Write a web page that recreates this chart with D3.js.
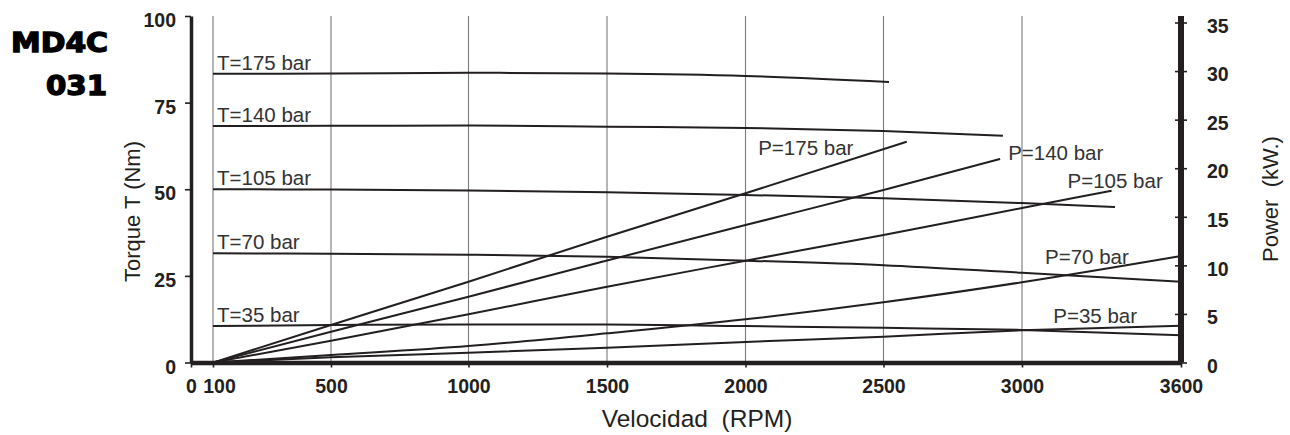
<!DOCTYPE html>
<html><head><meta charset="utf-8">
<script src="https://cdn.jsdelivr.net/npm/d3@7"></script>
<style>
html,body{margin:0;padding:0;background:#fff;}
svg{display:block;}
</style></head>
<body>
<svg id="chart" width="1290" height="435"></svg>
<script>
// ---- Data ----
const xTicks = [0, 100, 500, 1000, 1500, 2000, 2500, 3000, 3600];
const gridRpm = [100, 500, 1000, 1500, 2000, 2500, 3000];
const torqueTicks = [0, 25, 50, 75, 100];
const powerTicks = [0, 5, 10, 15, 20, 25, 30, 35];

const torqueLabels = ["T=175 bar", "T=140 bar", "T=105 bar", "T=70 bar", "T=35 bar"];
const torqueRpm = [
  [100, 500, 1000, 1500, 2000, 2520],
  [100, 500, 1000, 1500, 2000, 2500, 2931],
  [100, 500, 1000, 1500, 2000, 2500, 3000, 3351],
  [100, 500, 1000, 1500, 2000, 2500, 3000, 3600],
  [100, 500, 1000, 1500, 2000, 2500, 3000, 3600]
];
const torqueNm = [
  [83.3, 83.4, 83.6, 83.4, 82.7, 80.95],
  [68.25, 68.3, 68.4, 68.05, 67.7, 66.8, 65.45],
  [50.0, 49.9, 49.65, 49.1, 48.35, 47.4, 46.0, 44.9],
  [31.5, 31.4, 31.1, 30.5, 29.4, 28.1, 25.9, 23.3],
  [10.5, 10.8, 11.0, 11.0, 10.5, 10.0, 9.4, 7.9]
];

const powerLabels = ["P=175 bar", "P=140 bar", "P=105 bar", "P=70 bar", "P=35 bar"];
const powerRpm = [
  [100, 500, 1000, 1500, 2000, 2584],
  [100, 500, 1000, 1500, 2000, 2500, 2921],
  [100, 500, 1000, 1500, 2000, 2500, 3000, 3338],
  [100, 500, 1000, 1500, 2000, 2500, 3000, 3600],
  [100, 500, 1000, 1500, 2000, 2500, 3000, 3600]
];
const powerKW = [
  [0, 3.86, 8.32, 12.95, 17.42, 22.73],
  [0, 3.17, 6.77, 10.5, 14.15, 17.75, 20.95],
  [0, 2.24, 4.96, 7.8, 10.48, 13.13, 15.9, 17.69],
  [0, 0.77, 1.7, 3.0, 4.45, 6.2, 8.26, 10.96],
  [0, 0.54, 1.01, 1.52, 2.11, 2.66, 3.31, 3.79]
];
// label anchors in data space (rpm, kW)
const powerLabelRpm = [2046, 2950, 3172, 3087, 3118];
const powerLabelKW = [21.36, 20.85, 17.93, 10.14, 4.10];

// ---- Layout ----
const ink = "#231f20";
const svg = d3.select("#chart");
// axis calibration as printed (non-uniform spacing)
const x = d3.scaleLinear()
  .domain([0, 100, 500, 1000, 1500, 2000, 2500, 3000, 3600])
  .range([191, 213, 331, 468.5, 607, 745.5, 883.5, 1022, 1181]);
const yT = d3.scaleLinear().domain([0, 100]).range([362.5, 16]);
const yP = d3.scaleLinear().domain([0, 35]).range([362.5, 22.5]);

// gridlines
svg.append("g").selectAll("line").data(gridRpm).join("line")
  .attr("x1", d => x(d)).attr("x2", d => x(d))
  .attr("y1", yT(100)).attr("y2", yT(0))
  .attr("stroke", "#7a7a7a").attr("stroke-width", 1.1);

// curves
const lineT = d3.line().x(d => x(d[0])).y(d => yT(d[1])).curve(d3.curveMonotoneX);
const lineP = d3.line().x(d => x(d[0])).y(d => yP(d[1])).curve(d3.curveMonotoneX);

const gLines = svg.append("g").attr("fill", "none").attr("stroke", ink).attr("stroke-width", 2);
torqueRpm.forEach((r, i) => {
  const pts = r.map((v, j) => [v, torqueNm[i][j]]);
  gLines.append("path").attr("d", lineT(pts));
});
powerRpm.forEach((r, i) => {
  const pts = r.map((v, j) => [v, powerKW[i][j]]);
  gLines.append("path").attr("d", lineP(pts));
});

// curve labels
const labFont = "Liberation Sans, Arial, Helvetica, sans-serif";
svg.append("g").selectAll("text").data(torqueLabels).join("text")
  .attr("x", x(100) + 4)
  .attr("y", (d, i) => yT(torqueNm[i][0]) - 4)
  .attr("font-family", labFont).attr("font-size", 20.5).attr("fill", "#333")
  .text(d => d);
svg.append("g").selectAll("text").data(powerLabels).join("text")
  .attr("x", (d, i) => x(powerLabelRpm[i]))
  .attr("y", (d, i) => yP(powerLabelKW[i]))
  .attr("font-family", labFont).attr("font-size", 20.5).attr("fill", "#333")
  .text(d => d);

// axes
const tickFont = "Liberation Sans, Arial, sans-serif";
function styleAxis(g) {
  g.selectAll("text").attr("font-family", tickFont).attr("font-size", 19.5)
    .attr("font-weight", "bold").attr("fill", ink);
  g.selectAll(".tick line").attr("stroke", ink).attr("stroke-width", 1.6);
}
const fmt = d3.format("d");

const axB = svg.append("g").attr("transform", `translate(0,${yT(0)})`)
  .call(d3.axisBottom(x).tickValues(xTicks).tickFormat(fmt).tickSize(5).tickSizeOuter(0).tickPadding(12));
styleAxis(axB);
axB.select(".domain").attr("stroke", ink).attr("stroke-width", 4.5);
axB.selectAll(".tick text").filter(d => d === 100).attr("dx", 6);

const axL = svg.append("g").attr("transform", `translate(${x(0)},0)`)
  .call(d3.axisLeft(yT).tickValues(torqueTicks).tickFormat(fmt).tickSize(6).tickSizeOuter(0).tickPadding(9));
styleAxis(axL);
axL.select(".domain").attr("stroke", ink).attr("stroke-width", 3.5);
axL.selectAll(".tick text").attr("dy", "0.55em");

const axR = svg.append("g").attr("transform", `translate(${x(3600)},0)`)
  .call(d3.axisRight(yP).tickValues(powerTicks).tickFormat(fmt).tickSize(6).tickSizeOuter(0).tickPadding(20));
styleAxis(axR);
axR.selectAll(".tick line").attr("x1", -6);
axR.select(".domain").attr("stroke", ink).attr("stroke-width", 6)
  .attr("d", `M0,${yT(100)}V${yP(0)}`);
axR.selectAll(".tick text").attr("dy", "0.5em");

// axis titles
const titleFont = "Liberation Sans, Arial, Helvetica, sans-serif";
svg.append("text")
  .attr("transform", `translate(140,${211.5}) rotate(-90)`)
  .attr("text-anchor", "middle").attr("font-family", titleFont)
  .attr("font-size", 22).attr("fill", ink).text("Torque T (Nm)");
svg.append("text")
  .attr("transform", `translate(1278,${199}) rotate(-90)`)
  .attr("text-anchor", "middle").attr("font-family", titleFont)
  .attr("font-size", 22).attr("fill", ink)
  .style("white-space", "pre").text("Power  (kW.)");
svg.append("text")
  .attr("x", 697).attr("y", 427)
  .attr("text-anchor", "middle").attr("font-family", titleFont)
  .attr("font-size", 24.5).attr("fill", ink)
  .style("white-space", "pre").text("Velocidad  (RPM)");

// model title
const modelFont = "DejaVu Sans, sans-serif";
svg.append("text").attr("x", 108).attr("y", 52).attr("text-anchor", "end")
  .attr("font-family", modelFont).attr("font-weight", "bold").attr("font-size", 27)
  .attr("fill", "#000").attr("stroke", "#000").attr("stroke-width", 1.4)
  .attr("textLength", 97).attr("lengthAdjust", "spacingAndGlyphs").text("MD4C");
svg.append("text").attr("x", 107).attr("y", 95).attr("text-anchor", "end")
  .attr("font-family", modelFont).attr("font-weight", "bold").attr("font-size", 27)
  .attr("fill", "#000").attr("stroke", "#000").attr("stroke-width", 1.4)
  .attr("textLength", 61).attr("lengthAdjust", "spacingAndGlyphs").text("031");
</script>
</body></html>
